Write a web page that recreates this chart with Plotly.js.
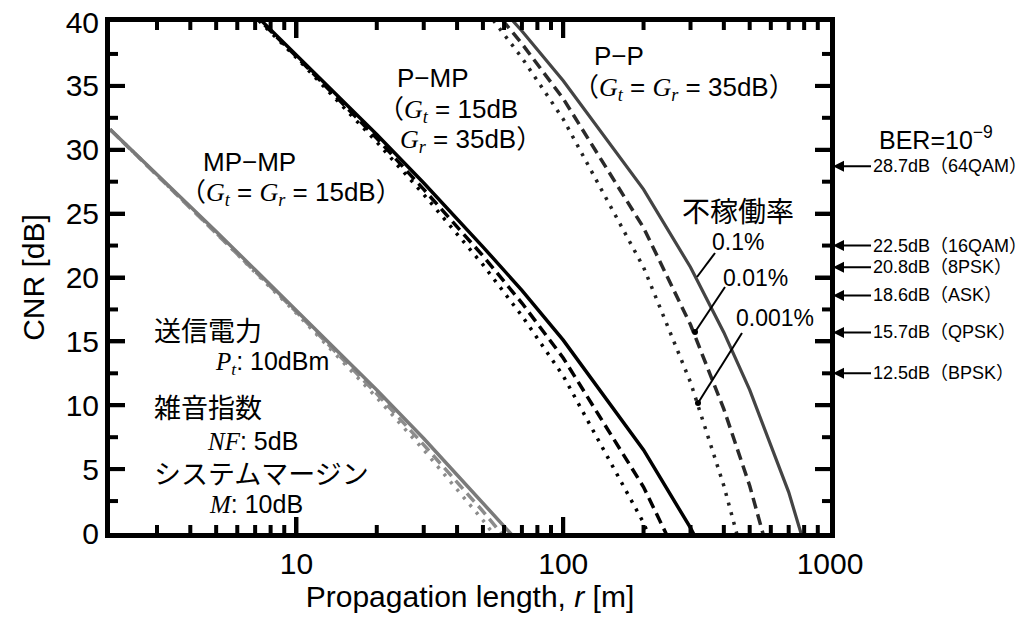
<!DOCTYPE html>
<html>
<head>
<meta charset="utf-8">
<script src="https://cdn.plot.ly/plotly-3.0.1.min.js"></script>
<style>html,body{margin:0;padding:0;background:#fff;}#chart{width:1031px;height:621px;}</style>
</head>
<body>
<div id="chart"></div>
<script>
// ---- data (CNR in dB vs propagation length in m) ----
const rMP = [2, 3, 5, 7, 10, 20, 30, 50, 70];
const mpmp_01   = [31.6, 28.1, 23.6, 20.6, 17.4, 11.2, 7.4, 2.4, -1.0];
const mpmp_001  = [31.6, 28.0, 23.5, 20.5, 17.3, 10.9, 6.9, 1.7, -2.0];
const mpmp_0001 = [31.6, 28.0, 23.5, 20.4, 17.2, 10.6, 6.5, 1.0, -3.0];

const rPMP = [5, 7, 10, 20, 30, 50, 70, 100, 200, 300, 400];
const pmp_01   = [43.6, 40.6, 37.4, 31.2, 27.4, 22.4, 19.0, 15.1, 6.5, 0.4, -4.7];
const pmp_001  = [43.5, 40.5, 37.3, 30.9, 26.9, 21.7, 18.0, 13.7, 3.6, -4.0, -10.5];
const pmp_0001 = [43.4, 40.4, 37.2, 30.6, 26.5, 21.0, 17.0, 12.3, 0.8, -8.2, -16.1];

const rPP = [30, 50, 70, 100, 200, 300, 400, 500, 700, 1000];
const pp_01   = [47.7, 42.7, 39.3, 35.4, 26.9, 20.8, 15.7, 11.2, 3.2, -7.6];
const pp_001  = [47.2, 42.0, 38.3, 34.0, 23.9, 16.3, 9.7, 3.7, -7.3, -23.0];
const pp_0001 = [46.8, 41.2, 37.2, 32.4, 20.8, 11.8, 3.7, -3.8, -19.0, -40.0];

const berValues = [28.7, 22.5, 20.8, 18.6, 15.7, 12.5];
const berLabels = ['28.7dB（64QAM）', '22.5dB（16QAM）', '20.8dB（8PSK）', '18.6dB（ASK）', '15.7dB（QPSK）', '12.5dB（BPSK）'];

const xTickVals = [10, 100, 1000];
const xTickText = ['10', '100', '1000'];
const xMajorTicks = [10, 100];
const xMinorTicks = [3, 4, 5, 6, 7, 8, 9, 20, 30, 40, 50, 60, 70, 80, 90, 200, 300, 400, 500, 600, 700, 800, 900];
const yMajorTicks = [5, 10, 15, 20, 25, 30, 35];
const yMinorTicks = [2.5, 7.5, 12.5, 17.5, 22.5, 27.5, 32.5, 37.5];

const xRange = [Math.log10(2), 3];
const yRange = [0, 40];

// ---- styling ----
const SANS = "'Liberation Sans', Arial, 'Noto Sans CJK JP', sans-serif";
const CJK = "'Noto Sans CJK JP', sans-serif";
const G = (s) => '<span style="font-family:\'Liberation Serif\',\'Times New Roman\',serif"><i>' + s + '</i></span>';
const Gs = (s, sub) => G(s) + '<sub><span style="font-family:\'Liberation Serif\',serif"><i>' + sub + '</i></span></sub>';

function tr(x, y, color, width, dash, name) {
  return {x: x, y: y, type: 'scatter', mode: 'lines', name: name,
          line: {color: color, width: width, dash: dash}, hoverinfo: 'skip'};
}
const DASH = '11px,6px', DOT = '3px,7px';
const traces = [
  tr(rMP, mpmp_0001, '#8c8c8c', 3.5, DOT, 'MP-MP 0.001%'),
  tr(rMP, mpmp_001, '#8c8c8c', 3.5, DASH, 'MP-MP 0.01%'),
  tr(rMP, mpmp_01, '#7a7a7a', 3.5, 'solid', 'MP-MP 0.1%'),
  tr(rPMP, pmp_0001, '#000', 3.5, DOT, 'P-MP 0.001%'),
  tr(rPMP, pmp_001, '#000', 3.5, DASH, 'P-MP 0.01%'),
  tr(rPMP, pmp_01, '#000', 3.5, 'solid', 'P-MP 0.1%'),
  tr(rPP, pp_0001, '#222', 3.5, DOT, 'P-P 0.001%'),
  tr(rPP, pp_001, '#2a2a2a', 3.5, DASH, 'P-P 0.01%'),
  tr(rPP, pp_01, '#444', 3.2, 'solid', 'P-P 0.1%')
];

// plot area in pixels: 110..830 x 22..533
const PW = 720, PH = 511;
const px = (v) => (v - 110) / PW;
const py = (v) => (533 - v) / PH;

// inside tick marks on all four sides, drawn through the axes' scales
const decPerPx = (xRange[1] - xRange[0]) / PW;
const unitPerPx = (yRange[1] - yRange[0]) / PH;
const xLo = Math.pow(10, xRange[0]), xHi = Math.pow(10, xRange[1]);
function tickTrace(xVals, xLen, yVals, yLen) {
  const tx = [], ty = [];
  xVals.forEach((v) => {
    const h = xLen * unitPerPx;
    tx.push(v, v, null, v, v, null);
    ty.push(yRange[0], yRange[0] + h, null, yRange[1], yRange[1] - h, null);
  });
  yVals.forEach((v) => {
    const f = Math.pow(10, yLen * decPerPx);
    tx.push(xLo, xLo * f, null, xHi, xHi / f, null);
    ty.push(v, v, null, v, v, null);
  });
  return {x: tx, y: ty, type: 'scatter', mode: 'lines', connectgaps: false, hoverinfo: 'skip',
          showlegend: false, line: {color: '#000', width: 4}};
}
traces.push(tickTrace(xMajorTicks, 16, yMajorTicks, 15));
traces.push(tickTrace(xMinorTicks, 8, yMinorTicks, 8));

function txt(x, y, text, size, xanchor, family) {
  return {xref: 'paper', yref: 'paper', x: px(x), y: py(y), text: text, showarrow: false,
          xanchor: xanchor || 'center', yanchor: 'middle',
          font: {family: family || SANS, size: size, color: '#000'}};
}

const annotations = [
  txt(433, 78, 'P−MP', 26),
  txt(520, 110, '（' + Gs('G', 't') + ' = 15dB', 26, 'right'),
  txt(398, 140, Gs('G', 'r') + ' = 35dB）', 26, 'left'),
  txt(619, 56, 'P−P', 26),
  txt(684, 88, '（' + Gs('G', 't') + ' = ' + Gs('G', 'r') + ' = 35dB）', 26),
  txt(249, 162, 'MP−MP', 26),
  txt(291, 193, '（' + Gs('G', 't') + ' = ' + Gs('G', 'r') + ' = 15dB）', 26),
  txt(152, 329, '送信電力', 27, 'left', CJK),
  txt(213, 363, Gs('P', 't') + ': 10dBm', 25, 'left'),
  txt(152, 406, '雑音指数', 27, 'left', CJK),
  txt(205, 441, G('NF') + ': 5dB', 25, 'left'),
  txt(152, 472, 'システムマージン', 27, 'left', CJK),
  txt(207, 504, G('M') + ': 10dB', 25, 'left'),
  txt(738, 210, '不稼働率', 28, 'center', CJK),
  txt(738, 242, '0.1%', 23),
  txt(755, 278, '0.01%', 23),
  txt(775, 318, '0.001%', 23),
  txt(877, 138, 'BER=10<sup>−9</sup>', 25, 'left')
];
berValues.forEach((v, i) => {
  annotations.push({xref: 'paper', yref: 'y', x: px(833), y: v, text: berLabels[i], showarrow: true,
    ax: 38, ay: 0, xanchor: 'left', yanchor: 'middle', arrowhead: 2, arrowsize: 1.1, arrowwidth: 2,
    arrowcolor: '#000', standoff: 0, font: {family: SANS, size: 18, color: '#000'}});
});

function seg(x0, y0, x1, y1) {
  return {type: 'line', xref: 'paper', yref: 'paper', x0: px(x0), y0: py(y0), x1: px(x1), y1: py(y1),
          line: {color: '#000', width: 2}};
}
function dot(x, y) {
  return {type: 'circle', xref: 'paper', yref: 'paper', x0: px(x - 3), x1: px(x + 3), y0: py(y + 3), y1: py(y - 3),
          fillcolor: '#000', line: {color: '#000', width: 0}};
}
const shapes = [
  seg(715, 253, 697, 277),
  seg(725, 287, 695, 332), dot(695, 332),
  seg(742, 333, 698, 403), dot(698, 403)
];

const layout = {
  width: 1031, height: 621,
  margin: {l: 110, r: 201, t: 22, b: 88},
  paper_bgcolor: '#fff', plot_bgcolor: '#fff',
  showlegend: false,
  font: {family: SANS, color: '#000'},
  xaxis: {
    type: 'log', range: xRange,
    tickmode: 'array', tickvals: xTickVals, ticktext: xTickText,
    ticks: 'inside', ticklen: 16, tickwidth: 4, tickcolor: '#000',
    showline: true, linewidth: 5, linecolor: '#000', mirror: 'ticks',
    showgrid: false, zeroline: false,
    tickfont: {family: SANS, size: 30},
    title: {text: 'Propagation length, <i>r</i> [m]', font: {family: SANS, size: 30}, standoff: 8}
  },
  yaxis: {
    range: yRange, tickmode: 'linear', dtick: 5, tick0: 0,
    ticks: 'inside', ticklen: 15, tickwidth: 4, tickcolor: '#000',
    showline: true, linewidth: 5, linecolor: '#000', mirror: 'ticks',
    showgrid: false, zeroline: false,
    tickfont: {family: SANS, size: 30},
    title: {text: 'CNR [dB]', font: {family: SANS, size: 30}, standoff: 14}
  },
  annotations: annotations,
  shapes: shapes
};

Plotly.newPlot('chart', traces, layout, {staticPlot: true, displayModeBar: false});
</script>
</body>
</html>
